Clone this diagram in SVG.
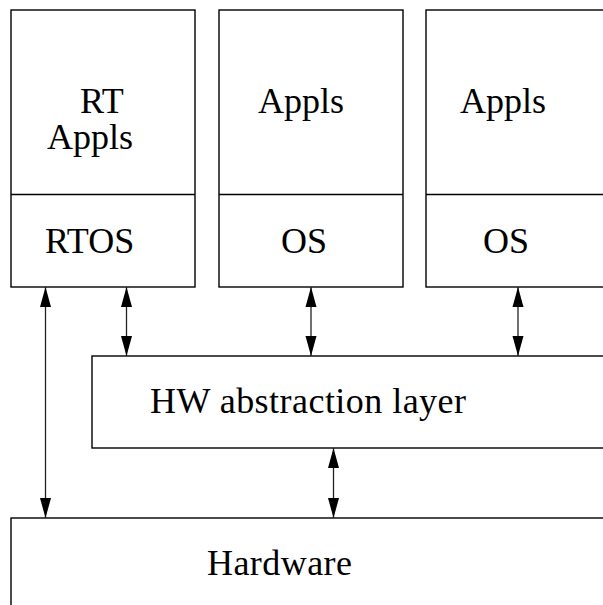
<svg xmlns="http://www.w3.org/2000/svg" width="603" height="605" viewBox="0 0 603 605">
<style>
.box{fill:#fff;stroke:#000;stroke-width:1.4}
.div{stroke:#000;stroke-width:1.4;fill:none}
.lbl{font-family:"Liberation Serif","Times New Roman",serif;font-size:36px;fill:#000}
.con{stroke:#222;stroke-width:1.3;fill:none}
</style>
<defs>
<marker id="ah" markerUnits="userSpaceOnUse" markerWidth="20" markerHeight="12" refX="20" refY="6" orient="auto-start-reverse">
<path d="M0,0.5 L20,6 L0,11.5 Z" fill="#000"/>
</marker>
</defs>
<rect width="603" height="605" fill="#fff"/>
<g id="node-rt">
<rect class="box" x="11" y="10" width="184" height="277"/>
<line class="div" x1="11" y1="194.5" x2="195" y2="194.5"/>
<text class="lbl" x="80" y="113">RT</text>
<text class="lbl" x="47" y="149">Appls</text>
<text class="lbl" x="45" y="253">RTOS</text>
</g>
<g id="node-os1">
<rect class="box" x="219" y="10" width="184" height="277"/>
<line class="div" x1="219" y1="194.5" x2="403" y2="194.5"/>
<text class="lbl" x="258" y="113">Appls</text>
<text class="lbl" x="281" y="253">OS</text>
</g>
<g id="node-os2">
<rect class="box" x="426" y="10" width="190" height="277"/>
<line class="div" x1="426" y1="194.5" x2="616" y2="194.5"/>
<text class="lbl" x="460" y="113">Appls</text>
<text class="lbl" x="483" y="253">OS</text>
</g>
<g id="node-hal">
<rect class="box" x="92" y="356" width="530" height="92"/>
<text class="lbl" x="150" y="413" textLength="316">HW abstraction layer</text>
</g>
<g id="node-hw">
<rect class="box" x="11" y="518" width="610" height="110"/>
<text class="lbl" x="207" y="575" textLength="145">Hardware</text>
</g>
<g id="connectors">
<line class="con" x1="45.5" y1="287" x2="45.5" y2="518" marker-start="url(#ah)" marker-end="url(#ah)"/>
<line class="con" x1="126.5" y1="287" x2="126.5" y2="356" marker-start="url(#ah)" marker-end="url(#ah)"/>
<line class="con" x1="311" y1="287" x2="311" y2="356" marker-start="url(#ah)" marker-end="url(#ah)"/>
<line class="con" x1="518" y1="287" x2="518" y2="356" marker-start="url(#ah)" marker-end="url(#ah)"/>
<line class="con" x1="333.5" y1="448" x2="333.5" y2="518" marker-start="url(#ah)" marker-end="url(#ah)"/>
</g>
</svg>
